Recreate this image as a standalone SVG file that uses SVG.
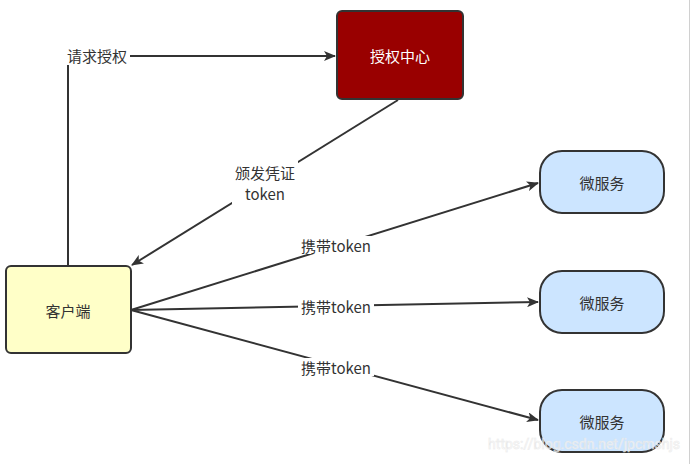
<svg xmlns="http://www.w3.org/2000/svg" width="695" height="464" viewBox="0 0 695 464">
<defs>
<style>
.n{stroke:#333;stroke-width:2}
.t{font-family:"Microsoft YaHei","Noto Sans CJK SC",sans-serif;font-size:15px;text-anchor:middle;dominant-baseline:central;fill:#333}
.c{fill:none;stroke:#333;stroke-width:2}
.lb{fill:#fff}
</style>
<marker id="a" viewBox="0 0 12 10" refX="11" refY="5" markerWidth="12" markerHeight="10" markerUnits="userSpaceOnUse" orient="auto">
<path d="M0,0 L12,5 L0,10 L3,5 Z" fill="#333"/>
</marker>
</defs>
<rect width="695" height="464" fill="#fff"/>
<line x1="689.5" y1="0" x2="689.5" y2="464" stroke="#d0d0d0" stroke-width="1"/>
<g id="connectors">
<polyline class="c" points="68,266 68,56 335,56" marker-end="url(#a)"/>
<line class="c" x1="398" y1="100" x2="132" y2="265" marker-end="url(#a)"/>
<line class="c" x1="131" y1="310" x2="538" y2="183" marker-end="url(#a)"/>
<line class="c" x1="131" y1="310" x2="538" y2="302" marker-end="url(#a)"/>
<line class="c" x1="131" y1="310" x2="538" y2="420" marker-end="url(#a)"/>
<rect class="lb" x="65" y="47" width="65" height="18"/>
<text class="t" x="97" y="55">请求授权</text>
<rect class="lb" x="232" y="160" width="66" height="44"/>
<text class="t" x="265" y="172">颁发凭证</text>
<text class="t" x="265" y="193">token</text>
<rect class="lb" x="298" y="236" width="76" height="18"/>
<text class="t" x="336" y="245">携带token</text>
<rect class="lb" x="298" y="297" width="76" height="18"/>
<text class="t" x="336" y="306">携带token</text>
<rect class="lb" x="298" y="358" width="76" height="18"/>
<text class="t" x="336" y="367">携带token</text>
</g>
<g id="auth">
<rect class="n" x="337" y="11" width="126" height="88" rx="5" fill="#990000"/>
<text class="t" x="400" y="55" style="fill:#fff">授权中心</text>
</g>
<g id="client">
<rect class="n" x="6" y="266" width="125" height="87" rx="5" fill="#ffffc8"/>
<text class="t" x="68" y="310">客户端</text>
</g>
<g id="ms1">
<rect class="n" x="540" y="151" width="124" height="62" rx="22" fill="#cce5ff"/>
<text class="t" x="602" y="182">微服务</text>
</g>
<g id="ms2">
<rect class="n" x="540" y="271" width="124" height="62" rx="22" fill="#cce5ff"/>
<text class="t" x="602" y="302">微服务</text>
</g>
<g id="ms3">
<rect class="n" x="540" y="390" width="124" height="62" rx="22" fill="#cce5ff"/>
<text class="t" x="602" y="421">微服务</text>
</g>
<text x="680" y="444" style="font-family:Roboto,'Liberation Sans',sans-serif;font-size:14px;text-anchor:end;dominant-baseline:central;fill:#fff;stroke:#e6e6e6;stroke-width:0.6;opacity:0.8">https://blog.csdn.net/jpcmshjs</text>
</svg>
